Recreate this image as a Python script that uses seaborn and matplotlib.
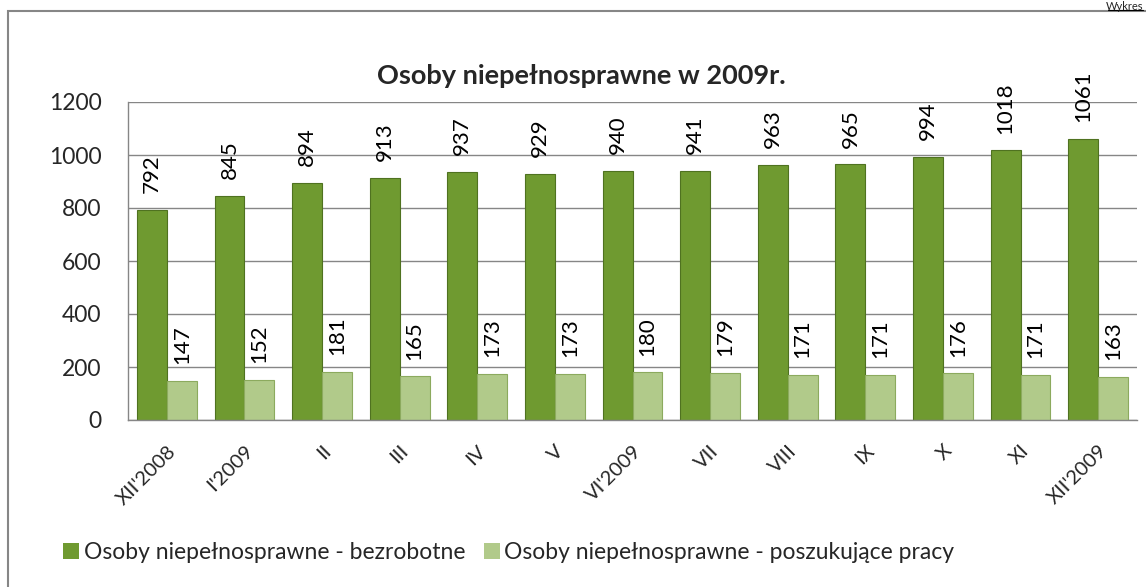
import matplotlib
matplotlib.use('Agg')
import pandas as pd
import matplotlib.pyplot as plt
import seaborn as sns
from matplotlib.patches import Rectangle
from matplotlib.lines import Line2D

# dane z wykresu
miesiace = ["XII'2008", "I'2009", "II", "III", "IV", "V", "VI'2009",
            "VII", "VIII", "IX", "X", "XI", "XII'2009"]
bezrobotne = [792, 845, 894, 913, 937, 929, 940, 941, 963, 965, 994, 1018, 1061]
poszukujace = [147, 152, 181, 165, 173, 173, 180, 179, 171, 171, 176, 171, 163]
serie = ["Osoby niepełnosprawne - bezrobotne",
         "Osoby niepełnosprawne - poszukujące pracy"]

df = pd.DataFrame({
    'miesiac': miesiace * 2,
    'wartosc': bezrobotne + poszukujace,
    'seria': [serie[0]] * len(miesiace) + [serie[1]] * len(miesiace),
})

sns.set_style('white')
plt.rcParams['font.family'] = ['Lato', 'DejaVu Sans']
grey = '#868686'

fig = plt.figure(figsize=(11.46, 5.87), dpi=100)
ax = fig.add_axes([128 / 1146, 1 - 420 / 587, (1137 - 128) / 1146, 318 / 587])

sns.barplot(data=df, x='miesiac', y='wartosc', hue='seria',
            palette=['#6f9a30', '#b1ca8a'], saturation=1, width=0.77, ax=ax,
            edgecolor='none', legend=True)
edges = ['#4f7220', '#8caa5e']
for cont, ec in zip(ax.containers, edges):
    for bar in cont:
        bar.set_edgecolor(ec)
        bar.set_linewidth(0.8)
    ax.bar_label(cont, rotation=90, padding=12, fontsize=16, color='black')

ax.set_ylim(0, 1200)
ax.set_xlim(-0.5, len(miesiace) - 0.5)
ax.set_yticks(range(0, 1201, 200))
ax.yaxis.grid(True, color=grey, linewidth=1)
ax.set_axisbelow(True)
ax.set_xlabel('')
ax.set_ylabel('')
for s in ['top', 'right']:
    ax.spines[s].set_visible(False)
for s in ['left', 'bottom']:
    ax.spines[s].set_color(grey)
    ax.spines[s].set_linewidth(1)

ax.set_xticks([i - 0.5 for i in range(len(miesiace) + 1)], minor=True)
ax.tick_params(axis='x', which='minor', length=7, color=grey, width=1)
ax.tick_params(axis='x', which='major', length=0, pad=16)
ax.tick_params(axis='y', length=7, color=grey, width=1, labelsize=16.5, pad=12)
ax.set_xticks(range(len(miesiace)))
ax.set_xticklabels(miesiace, rotation=45, ha='right', rotation_mode='anchor',
                   fontsize=14.5)

ax.set_title('Osoby niepełnosprawne w 2009r.', fontsize=19.5, fontweight='bold',
             x=(581 - 128) / (1137 - 128), pad=13)

leg = ax.legend(loc='lower left', bbox_to_anchor=(54 / 1146, 15 / 587),
                bbox_transform=fig.transFigure, ncol=2, frameon=False,
                fontsize=16.5, handlelength=0.7, handleheight=0.7,
                handletextpad=0.2, columnspacing=0.8, borderaxespad=0)

# ramka wykresu i podpis "Wykres"
fig.add_artist(Rectangle((8 / 1146, -0.1), 1.2, 1 - 11 / 587 + 0.1,
                         transform=fig.transFigure, fill=False,
                         edgecolor=grey, linewidth=1.5))
fig.text(1143 / 1146, 1 - 1 / 587, 'Wykres', fontsize=8, va='top', ha='right')
fig.add_artist(Line2D([1108 / 1146, 1143 / 1146], [1 - 10 / 587, 1 - 10 / 587],
                      transform=fig.transFigure, color='black', linewidth=0.8))

fig.savefig('out.png', dpi=100)
